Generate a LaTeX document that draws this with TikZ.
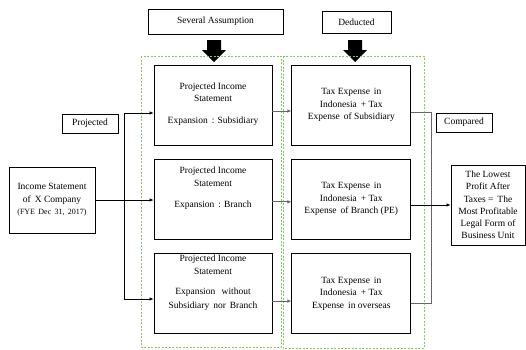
\documentclass[tikz,border=0pt]{standalone}
\usepackage{fontspec}
\setmainfont{Liberation Serif}
\usetikzlibrary{arrows.meta,positioning}
\definecolor{grpgreen}{RGB}{135,200,95}

\begin{document}
\begin{tikzpicture}[x=1pt,y=-1pt,
    font=\fontsize{9.5}{12.5}\selectfont,
    box/.style={draw,line width=0.8pt,align=center,inner sep=1pt},
    txt/.style={align=center,inner sep=0pt},
    grp/.style={draw=grpgreen,dash pattern=on 2pt off 1.5pt,line width=0.7pt},
    link/.style={draw=black!60,line width=0.7pt},
    tip/.style={-{Latex[length=4pt,width=3.5pt]}}]

  \useasboundingbox (0,0) rectangle (526,349);

  \node[box,minimum width=135pt,minimum height=25pt] (sa) at (215.5,21.5) {Several Assumption};
  \node[box,minimum width=69pt,minimum height=22pt] (de) at (356.5,22) {Deducted};

  \foreach \cx in {214,355}
    \fill[shift={(\cx,0)}] (-7,40) -- (7,40) -- (7,50) -- (12,50) -- (0,62) -- (-12,50) -- (-7,50) -- cycle;

  \draw[grp] (141,56) rectangle (281,347);
  \draw[grp] (283,56) rectangle (424,348);

  \node[box,minimum width=118pt,minimum height=80pt] (p1) at (213,105) {};
  \node[box,minimum width=118pt,minimum height=80pt,below=13.5pt of p1] (p2) {};
  \node[box,minimum width=118pt,minimum height=80pt,below=13.5pt of p2] (p3) {};

  \node[txt,below=18pt of p1.north] (l1) {Projected Income\\Statement\\[9pt]Expansion \,: Subsidiary};
  \node[txt,below=8pt of p2.north] (l2) {Projected Income\\Statement\\[9pt]Expansion \,: Branch};
  \node[txt,below=1.5pt of p3.north] (l3) {Projected Income\\Statement\\[8pt]Expansion \, without\\[1.5pt]Subsidiary \,nor \,Branch};

  \node[box,minimum width=119pt,minimum height=80pt,right=19pt of p1] (t1) {Tax Expense \,in\\Indonesia \,+ Tax\\Expense \,of Subsidiary};
  \node[box,minimum width=119pt,minimum height=80pt,right=19pt of p2] (t2) {Tax Expense \,in\\Indonesia \,+ Tax\\Expense \,of Branch (PE)};
  \node[box,minimum width=119pt,minimum height=80pt,right=19pt of p3] (t3) {Tax Expense \,in\\Indonesia \,+ Tax\\Expense \,in overseas};

  \node[box,minimum width=86pt,minimum height=66pt] (in) at (52,200)
    {Income Statement\\of \,X Company\\{\fontsize{8}{11}\selectfont(FYE \,Dec \,31, \,2017)}};
  \node[box,minimum width=56pt,minimum height=19pt] (pr) at (90,123.5) {Projected};
  \node[box,minimum width=56pt,minimum height=19pt] (co) at (464,122.5) {Compared};
  \node[box,minimum width=74pt,minimum height=80pt,font=\fontsize{9.5}{12.2}\selectfont] (fin) at (488,205)
    {The Lowest\\Profit After\\Taxes = \,The\\Most Profitable\\Legal Form of\\Business Unit};

  \coordinate (b1) at (124,113);
  \coordinate (b3) at (124,299);
  \draw[line width=0.7pt] (b1) -- (b3);
  \draw[line width=0.7pt,tip] (b1) -- (b1 -| p1.west);
  \draw[line width=0.7pt,tip] (b3) -- (b3 -| p3.west);
  \draw[line width=0.7pt,tip] (in) -- (in -| p2.west);

  \draw[link,tip] ([yshift=-6pt]p1.east) -- ([yshift=-6pt]p1.east -| t1.west);
  \draw[link,tip] ([yshift=-2.5pt]p2.east) -- ([yshift=-2.5pt]p2.east -| t2.west);
  \draw[link,tip] ([yshift=-7.5pt]p3.east) -- ([yshift=-7.5pt]p3.east -| t3.west);

  \coordinate (c1) at (431,112);
  \coordinate (c3) at (431,303);
  \draw[link] (c1 -| t1.east) -- (c1) -- (c3) -- (c3 -| t3.east);
  \draw[line width=0.7pt,tip] (t2.east |- fin) -- (fin);
\end{tikzpicture}
\end{document}
